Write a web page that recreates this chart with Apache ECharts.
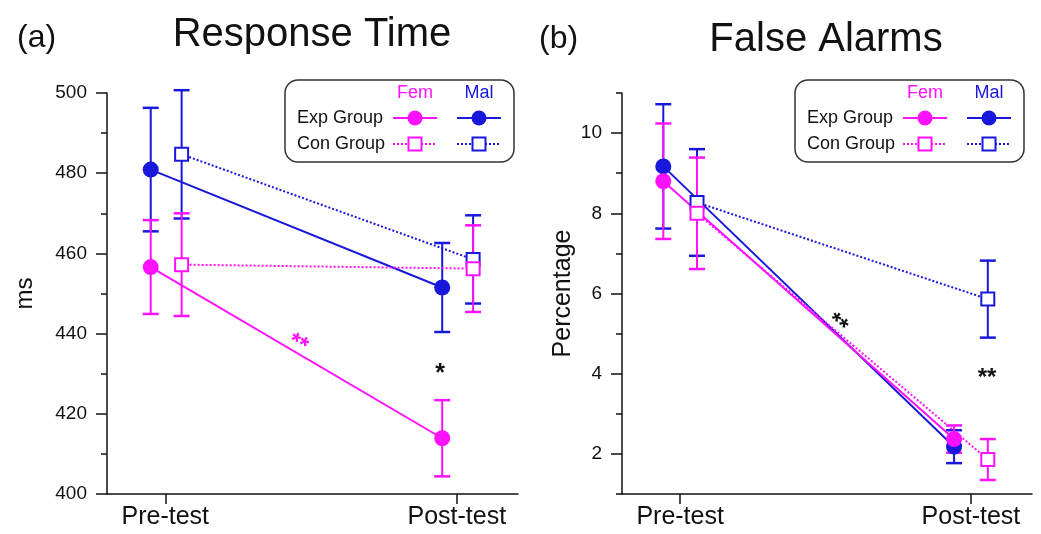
<!DOCTYPE html>
<html lang="en">
<head>
  <meta charset="UTF-8">
  <title>Response Time / False Alarms</title>
  <style>
    html, body { margin: 0; padding: 0; background: #fff; }
  </style>
</head>
<body>
<div id="main" style="width: 1041px;height:534px;"></div>
<script src="https://cdn.jsdelivr.net/npm/echarts@6.0.0/dist/echarts.min.js"></script>
<script type="text/javascript">
  // categories on the x axis (positions 0 and 1)
  const categories = ['Pre-test', 'Post-test']

  // (a) Response Time, ms  [pre, post]
  const rtFemExp = [456.6, 413.9]
  const rtFemExpErr = [11.7, 9.5]
  const rtMalExp = [480.9, 451.5]
  const rtMalExpErr = [15.4, 11.1]
  const rtFemCon = [457.2, 456.2]
  const rtFemConErr = [12.8, 10.8]
  const rtMalCon = [484.7, 458.5]
  const rtMalConErr = [16.0, 11.0]
  const rtTicks = [400, 420, 440, 460, 480, 500]

  // (b) False Alarms, percentage  [pre, post]
  const faFemExp = [8.8, 2.37]
  const faFemExpErr = [1.44, 0.34]
  const faMalExp = [9.17, 2.18]
  const faMalExpErr = [1.55, 0.41]
  const faFemCon = [8.0, 1.86]
  const faFemConErr = [1.39, 0.51]
  const faMalCon = [8.27, 5.86]
  const faMalConErr = [1.33, 0.96]
  const faTicks = [2, 4, 6, 8, 10]
  const faMinorTicks = [1, 3, 5, 7, 9, 11]

  const FEM = '#ff10ff'
  const MAL = '#1818dc'
  const INK = '#111'
  const FONT = '"Liberation Sans", Arial, sans-serif'

  const chart = echarts.init(document.getElementById('main'))

  function errRender(params, api) {
    const x = api.value(0)
    const lo = api.coord([x, api.value(1)])
    const hi = api.coord([x, api.value(2)])
    const w = 8
    const style = {stroke: api.visual('color'), lineWidth: 2}
    return {
      type: 'group',
      children: [
        {type: 'line', shape: {x1: lo[0], y1: lo[1], x2: hi[0], y2: hi[1]}, style},
        {type: 'line', shape: {x1: lo[0] - w, y1: lo[1], x2: lo[0] + w, y2: lo[1]}, style: {stroke: style.stroke, lineWidth: 2.5}},
        {type: 'line', shape: {x1: hi[0] - w, y1: hi[1], x2: hi[0] + w, y2: hi[1]}, style: {stroke: style.stroke, lineWidth: 2.5}}
      ]
    }
  }

  // one group (e.g. female experimental) in one panel
  function groupSeries(gi, yi, means, errs, off, color, exp) {
    const errData = means.map((m, i) => [i + off, m - errs[i], m + errs[i]])
    const lineData = means.map((m, i) => [i + off, m])
    return [
      {
        type: 'custom',
        xAxisIndex: gi,
        yAxisIndex: yi,
        renderItem: errRender,
        itemStyle: {color},
        data: errData,
        silent: true,
        z: 2
      },
      {
        type: 'line',
        xAxisIndex: gi,
        yAxisIndex: yi,
        data: lineData,
        symbol: exp ? 'circle' : 'rect',
        symbolSize: exp ? 16 : 13,
        lineStyle: {color, width: 2, type: exp ? 'solid' : [2, 2]},
        itemStyle: {color: exp ? color : '#fff', borderColor: color, borderWidth: exp ? 0 : 2},
        emphasis: {disabled: true},
        silent: true,
        z: 3
      }
    ]
  }

  function xAxis(gi) {
    return {
      type: 'value',
      gridIndex: gi,
      min: -0.2,
      max: 1.21,
      splitLine: {show: false},
      axisLine: {onZero: false, lineStyle: {color: INK, width: 1.5}},
      axisTick: {customValues: [0, 1], length: 10, lineStyle: {color: INK, width: 1.5}},
      axisLabel: {
        customValues: [0, 1],
        formatter: (v) => categories[Math.round(v)],
        fontSize: 25,
        fontFamily: FONT,
        color: INK,
        margin: 11
      }
    }
  }

  function legend(ox) {
    const rows = [
      {label: 'Exp Group', y: 118, exp: true},
      {label: 'Con Group', y: 144, exp: false}
    ]
    const cols = [
      {label: 'Fem', cx: 415, color: FEM},
      {label: 'Mal', cx: 479, color: MAL}
    ]
    const children = [
      {type: 'rect', shape: {x: 285, y: 80, width: 229, height: 82, r: 13},
        style: {fill: '#fff', stroke: '#333', lineWidth: 1.5}}
    ]
    cols.forEach((c) => {
      children.push({type: 'text', x: c.cx, y: 93,
        style: {text: c.label, fill: c.color, font: '18px ' + FONT, align: 'center', verticalAlign: 'middle'}})
    })
    rows.forEach((r) => {
      children.push({type: 'text', x: 297, y: r.y,
        style: {text: r.label, fill: INK, font: '18px ' + FONT, align: 'left', verticalAlign: 'middle'}})
      cols.forEach((c) => {
        children.push({type: 'line', shape: {x1: c.cx - 22, y1: r.y, x2: c.cx + 22, y2: r.y},
          style: {stroke: c.color, lineWidth: 2, lineDash: r.exp ? null : [2, 2]}})
        if (r.exp) {
          children.push({type: 'circle', shape: {cx: c.cx, cy: r.y, r: 7.5}, style: {fill: c.color}})
        } else {
          children.push({type: 'rect', shape: {x: c.cx - 6.5, y: r.y - 6.5, width: 13, height: 13},
            style: {fill: '#fff', stroke: c.color, lineWidth: 2}})
        }
      })
    })
    return {type: 'group', x: ox, y: 0, z: 100, children}
  }

  function star(x, y, text, color, rot, size) {
    return {type: 'text', x, y, rotation: rot, z: 100,
      style: {text, fill: color, font: 'bold ' + size + 'px ' + FONT, align: 'center', verticalAlign: 'middle'}}
  }

  const expOffA = -0.05, conOffA = 0.056
  const expOffB = -0.058, conOffB = 0.058

  const option = {
    animation: false,
    grid: [
      {left: 107, top: 93, width: 411, height: 401},
      {left: 622, top: 93, width: 410, height: 401}
    ],
    xAxis: [xAxis(0), xAxis(1)],
    yAxis: [
      {
        type: 'value',
        gridIndex: 0,
        min: rtTicks[0],
        max: rtTicks[rtTicks.length - 1],
        interval: 20,
        name: 'ms',
        nameLocation: 'middle',
        nameGap: 70,
        nameTextStyle: {fontSize: 24, fontFamily: FONT, color: INK},
        splitLine: {show: false},
        axisLine: {show: true, onZero: false, lineStyle: {color: INK, width: 1.5}},
        axisTick: {show: true, length: 11, lineStyle: {color: INK, width: 1.5}},
        minorTick: {show: true, splitNumber: 2, length: 6, lineStyle: {color: INK, width: 1.5}},
        axisLabel: {fontSize: 19, fontFamily: FONT, color: INK, margin: 20}
      },
      {
        type: 'value',
        gridIndex: 1,
        min: 1,
        max: 11,
        name: 'Percentage',
        nameLocation: 'middle',
        nameGap: 46,
        nameTextStyle: {fontSize: 25, fontFamily: FONT, color: INK},
        splitLine: {show: false},
        axisLine: {show: true, onZero: false, lineStyle: {color: INK, width: 1.5}},
        axisTick: {show: true, customValues: faTicks, length: 11, lineStyle: {color: INK, width: 1.5}},
        axisLabel: {customValues: faTicks, fontSize: 19, fontFamily: FONT, color: INK, margin: 20}
      },
      {
        type: 'value',
        gridIndex: 1,
        position: 'left',
        min: 1,
        max: 11,
        splitLine: {show: false},
        axisLine: {show: false, onZero: false},
        axisTick: {show: true, customValues: faMinorTicks, length: 6, lineStyle: {color: INK, width: 1.5}},
        axisLabel: {show: false}
      }
    ],
    series: [
      ...groupSeries(0, 0, rtMalExp, rtMalExpErr, expOffA, MAL, true),
      ...groupSeries(0, 0, rtFemExp, rtFemExpErr, expOffA, FEM, true),
      ...groupSeries(0, 0, rtMalCon, rtMalConErr, conOffA, MAL, false),
      ...groupSeries(0, 0, rtFemCon, rtFemConErr, conOffA, FEM, false),
      ...groupSeries(1, 1, faMalExp, faMalExpErr, expOffB, MAL, true),
      ...groupSeries(1, 1, faFemExp, faFemExpErr, expOffB, FEM, true),
      ...groupSeries(1, 1, faMalCon, faMalConErr, conOffB, MAL, false),
      ...groupSeries(1, 1, faFemCon, faFemConErr, conOffB, FEM, false)
    ],
    graphic: [
      {type: 'text', x: 17, y: 38, style: {text: '(a)', fill: INK, font: '32px ' + FONT, verticalAlign: 'middle'}},
      {type: 'text', x: 312, y: 35, style: {text: 'Response Time', fill: INK, font: '40px ' + FONT, align: 'center', verticalAlign: 'middle'}},
      {type: 'text', x: 539, y: 39, style: {text: '(b)', fill: INK, font: '32px ' + FONT, verticalAlign: 'middle'}},
      {type: 'text', x: 826, y: 40, style: {text: 'False Alarms', fill: INK, font: '40px ' + FONT, align: 'center', verticalAlign: 'middle'}},
      legend(0),
      legend(510),
      star(298, 344, '**', FEM, -0.47, 24),
      star(440, 374, '*', INK, 0, 25),
      star(837, 324, '**', INK, -0.7, 24),
      star(987, 378, '**', INK, 0, 24)
    ]
  }

  chart.setOption(option)
</script>
</body>
</html>
